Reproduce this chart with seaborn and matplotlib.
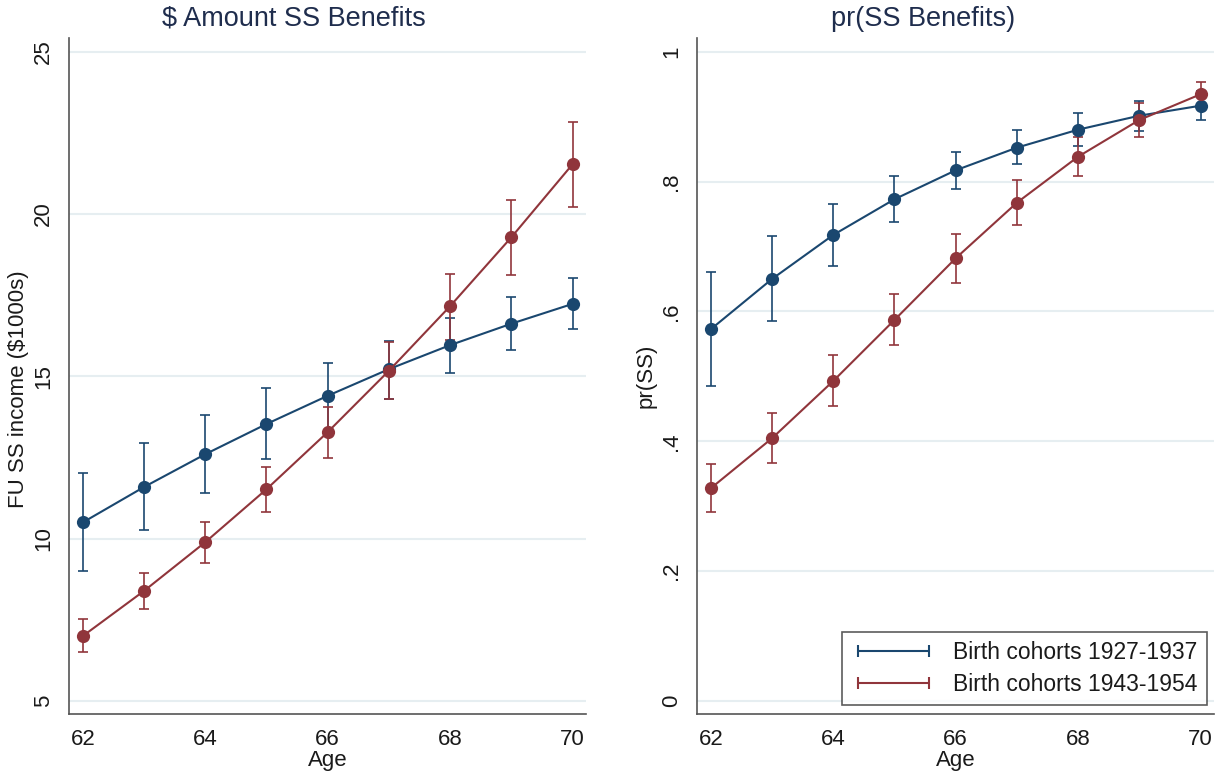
import numpy as np
import pandas as pd
import matplotlib
matplotlib.use("Agg")
import matplotlib.pyplot as plt
import seaborn as sns
from matplotlib.lines import Line2D

# ---------------- data ----------------
ages = [62, 63, 64, 65, 66, 67, 68, 69, 70]
cohorts = ["Birth cohorts 1927-1937", "Birth cohorts 1943-1954"]

amt_old = [10.50, 11.59, 12.60, 13.53, 14.40, 15.22, 15.96, 16.62, 17.23]
amt_old_lo = [9.01, 10.26, 11.40, 12.44, 13.29, 14.30, 15.11, 15.82, 16.45]
amt_old_hi = [12.03, 12.94, 13.81, 14.63, 15.40, 16.10, 16.80, 17.45, 18.02]

amt_new = [7.00, 8.39, 9.89, 11.52, 13.28, 15.17, 17.16, 19.28, 21.53]
amt_new_lo = [6.50, 7.82, 9.25, 10.83, 12.49, 14.29, 16.12, 18.12, 20.22]
amt_new_hi = [7.52, 8.93, 10.50, 12.21, 14.05, 16.06, 18.16, 20.42, 22.83]

pr_old = [0.5725, 0.6499, 0.7177, 0.7727, 0.8173, 0.8522, 0.8799, 0.9014, 0.9168]
pr_old_lo = [0.4851, 0.5852, 0.6700, 0.7373, 0.7885, 0.8266, 0.8543, 0.8774, 0.8948]
pr_old_hi = [0.6612, 0.7162, 0.7654, 0.8086, 0.8460, 0.8794, 0.9051, 0.9245, 0.9390]

pr_new = [0.3276, 0.4046, 0.4928, 0.5868, 0.6818, 0.7674, 0.8383, 0.8948, 0.9344]
pr_new_lo = [0.2911, 0.3661, 0.4539, 0.5478, 0.6433, 0.7331, 0.8090, 0.8691, 0.9160]
pr_new_hi = [0.3650, 0.4431, 0.5324, 0.6268, 0.7192, 0.8019, 0.8691, 0.9205, 0.9529]

amt_ticks = [5, 10, 15, 20, 25]
amt_ticklabels = ["5", "10", "15", "20", "25"]
pr_ticks = [0, 0.2, 0.4, 0.6, 0.8, 1.0]
pr_ticklabels = ["0", ".2", ".4", ".6", ".8", "1"]
age_ticks = [62, 64, 66, 68, 70]

# ---------------- style ----------------
sns.set_theme(style="white")
plt.rcParams["font.family"] = ["Liberation Sans", "DejaVu Sans"]

NAVY = "#1a476f"
MAROON = "#90353b"
colors = {cohorts[0]: NAVY, cohorts[1]: MAROON}
GRID = "#e6eef1"
SPINE = "#555555"
TXT = "#1a1a1a"
TITLE = "#1f2d4d"
FS = 16

W, H = 1222, 781
fig = plt.figure(figsize=(W / 100, H / 100), dpi=100)
fig.patch.set_facecolor("white")

ax_l = fig.add_axes([69.3 / W, (H - 714) / H, (586 - 69.3) / W, (714 - 38.3) / H])
ax_r = fig.add_axes([697.3 / W, (H - 714) / H, (1214 - 697.3) / W, (714 - 38.3) / H])


def long_df(old, new):
    return pd.DataFrame({
        "Age": ages * 2,
        "val": list(old) + list(new),
        "cohort": [cohorts[0]] * len(ages) + [cohorts[1]] * len(ages),
    })


def draw(ax, old, old_lo, old_hi, new, new_lo, new_hi):
    for mean, lo, hi, c in [(old, old_lo, old_hi, NAVY), (new, new_lo, new_hi, MAROON)]:
        mean = np.asarray(mean)
        ax.errorbar(ages, mean, yerr=[mean - np.asarray(lo), np.asarray(hi) - mean],
                    fmt="none", ecolor=c, elinewidth=1.4, capsize=3.8, capthick=1.4,
                    alpha=0.85, zorder=2)
    sns.lineplot(data=long_df(old, new), x="Age", y="val", hue="cohort",
                 palette=colors, marker="o", markersize=9.5, markeredgewidth=0,
                 linewidth=1.5, ax=ax, legend=False, zorder=3)


draw(ax_l, amt_old, amt_old_lo, amt_old_hi, amt_new, amt_new_lo, amt_new_hi)
draw(ax_r, pr_old, pr_old_lo, pr_old_hi, pr_new, pr_new_lo, pr_new_hi)

ax_l.set_ylim(4.60, 25.41)
ax_r.set_ylim(-0.020, 1.0206)
for ax in (ax_l, ax_r):
    ax.set_xlim(61.78, 70.22)
    ax.set_xticks(age_ticks)
    ax.set_xticklabels([str(a) for a in age_ticks])
    ax.set_facecolor("white")
    for s in ("top", "right"):
        ax.spines[s].set_visible(False)
    for s in ("left", "bottom"):
        ax.spines[s].set_color(SPINE)
        ax.spines[s].set_linewidth(1.2)
    ax.tick_params(axis="both", direction="out", length=6, width=1.0, color=SPINE,
                   labelsize=FS, labelcolor=TXT)
    ax.tick_params(axis="x", pad=5)
    ax.tick_params(axis="y", pad=5, labelrotation=90)
    ax.grid(axis="y", color=GRID, linewidth=1.5)
    ax.grid(axis="x", visible=False)
    ax.set_axisbelow(True)
    ax.set_xlabel("Age", fontsize=FS, color=TXT, labelpad=0)

ax_l.set_yticks(amt_ticks)
ax_l.set_yticklabels(amt_ticklabels)
ax_r.set_yticks(pr_ticks)
ax_r.set_yticklabels(pr_ticklabels)
for ax in (ax_l, ax_r):
    for lab in ax.get_yticklabels():
        lab.set_va("center")

ax_l.set_ylabel("FU SS income ($1000s)", fontsize=FS, color=TXT)
ax_l.yaxis.set_label_coords(-0.078, 0.48)
ax_r.set_ylabel("pr(SS)", fontsize=FS, color=TXT)
ax_r.yaxis.set_label_coords(-0.078, 0.50)

fig.text(294 / W, 1 - 19 / H, "\\$ Amount SS Benefits", ha="center", va="center",
         fontsize=19.5, color=TITLE)
fig.text(923 / W, 1 - 19 / H, "pr(SS Benefits)", ha="center", va="center",
         fontsize=19.5, color=TITLE)

handles = [Line2D([0], [0], color=NAVY, lw=1.5, marker="|", markersize=8, markeredgewidth=1.5),
           Line2D([0], [0], color=MAROON, lw=1.5, marker="|", markersize=8, markeredgewidth=1.5)]
leg = ax_r.legend(handles, cohorts, loc="lower right", bbox_to_anchor=(0.986, 0.0133),
                  numpoints=2, fontsize=16.5, frameon=True, fancybox=False,
                  handlelength=3.7, handletextpad=0.75, borderpad=0.4,
                  labelspacing=0.4, borderaxespad=0)
leg.get_frame().set_edgecolor("#333333")
leg.get_frame().set_linewidth(1.2)
for t in leg.get_texts():
    t.set_color(TXT)

fig.savefig("out.png", dpi=100, facecolor="white")
